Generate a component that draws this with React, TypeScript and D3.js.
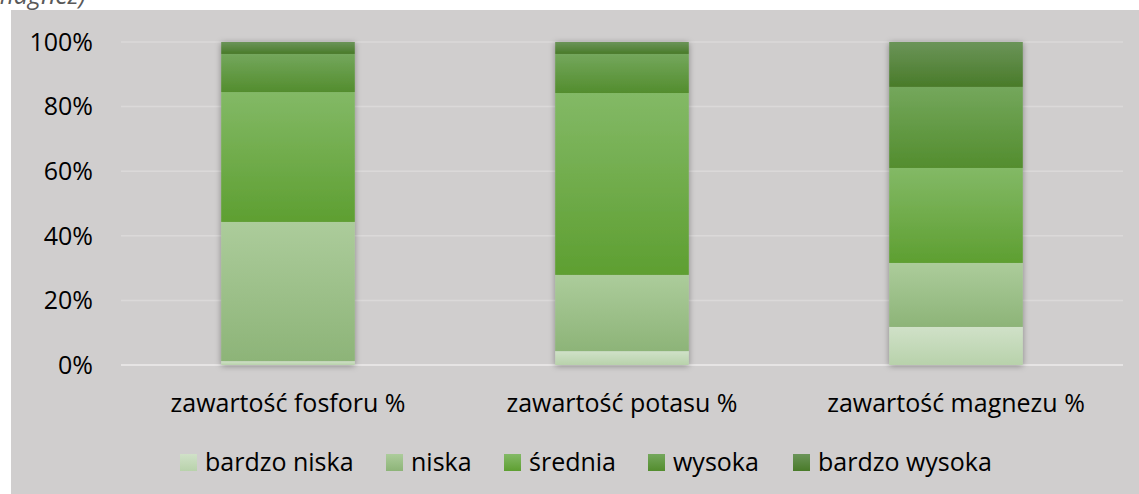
import React from "react";
import * as d3 from "d3";

const categories = ["zawartość fosforu %", "zawartość potasu %", "zawartość magnezu %"];
const seriesNames = ["bardzo niska", "niska", "średnia", "wysoka", "bardzo wysoka"];
const bardzoNiska = [1.2, 4.3, 11.8];
const niska = [43.1, 23.6, 19.8];
const srednia = [40.2, 56.3, 29.4];
const wysoka = [11.8, 12.1, 25.1];
const bardzoWysoka = [3.7, 3.7, 13.9];
const yTicks = [0, 20, 40, 60, 80, 100];

const gradients = [
  ["#d0e1c8", "#b8d2ab"],
  ["#accc9b", "#8db478"],
  ["#83b966", "#5e9f31"],
  ["#74a75c", "#538d2e"],
  ["#6b9459", "#497b29"],
];

export default function App() {
  const W = 1139, H = 494;
  const x0 = 121, x1 = 1123;
  const yTop = 42, yBot = 365;
  const series = [bardzoNiska, niska, srednia, wysoka, bardzoWysoka];
  const table = categories.map((c, i) => {
    const o: any = { cat: c };
    seriesNames.forEach((s, j) => (o[s] = series[j][i]));
    return o;
  });
  const stacked = d3.stack<any>().keys(seriesNames)(table);
  const x = d3.scaleBand<string>().domain(categories).range([x0, x1]).paddingInner(0.6).paddingOuter(0.3);
  const y = d3.scaleLinear().domain([0, 100]).range([yBot, yTop]);
  const font = "'Open Sans', sans-serif";
  const legendX = [180, 386, 504, 648, 793];
  const fs = 25;

  return (
    <svg width={W} height={H} style={{ position: "absolute", left: 0, top: 0 }} fontFamily={font}>
      <defs>
        {gradients.map((g, i) => (
          <linearGradient key={i} id={`g${i}`} x1="0" y1="0" x2="0" y2="1">
            <stop offset="0" stopColor={g[0]} />
            <stop offset="1" stopColor={g[1]} />
          </linearGradient>
        ))}
        <filter id="sh" x="-10%" y="-5%" width="120%" height="110%">
          <feDropShadow dx="0" dy="1" stdDeviation="3" floodColor="#000" floodOpacity="0.35" />
        </filter>
      </defs>
      <rect x={0} y={0} width={W} height={H} fill="#fff" />
      <text x={-8} y={4} fontSize={fs} fontStyle="italic" fill="#595959">magnez)</text>
      <rect x={11} y={10} width={W - 11} height={H - 10} fill="#d0cece" />
      {yTicks.map((t) => (
        <g key={t}>
          <line x1={x0} x2={x1} y1={y(t)} y2={y(t)} stroke={t === 0 ? "#e6e4e4" : "#dbd9d9"} strokeWidth={t === 0 ? 2 : 1.5} />
          <text x={93} y={y(t)} dy="0.35em" textAnchor="end" fontSize={fs} fill="#000">{t}%</text>
        </g>
      ))}
      {categories.map((c, i) => (
        <g key={c} filter="url(#sh)">
          {stacked.map((s, j) => {
            const d = s[i];
            return (
              <rect key={j} x={x(c)!} width={x.bandwidth()} y={y(d[1])} height={y(d[0]) - y(d[1])} fill={`url(#g${j})`} />
            );
          })}
        </g>
      ))}
      {categories.map((c) => (
        <text key={c} x={x(c)! + x.bandwidth() / 2} y={412} textAnchor="middle" fontSize={fs} fill="#000">{c}</text>
      ))}
      {seriesNames.map((s, j) => (
        <g key={s}>
          <rect x={legendX[j]} y={454} width={17} height={17} fill={`url(#g${j})`} />
          <text x={legendX[j] + 25} y={471} fontSize={fs} fill="#000">{s}</text>
        </g>
      ))}
    </svg>
  );
}
